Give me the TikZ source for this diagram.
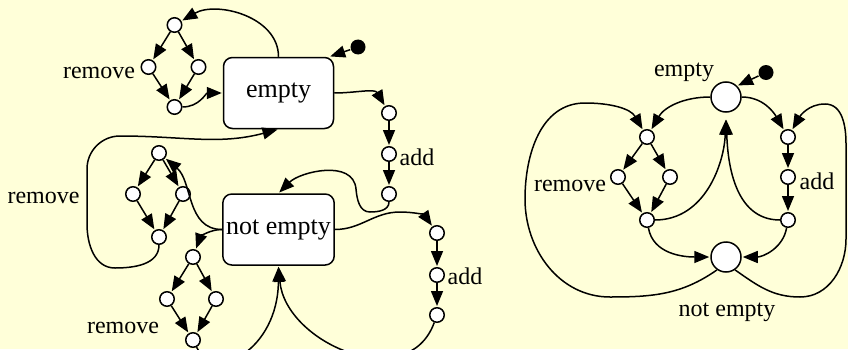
\documentclass[tikz,border=0pt]{standalone}
\usepackage{fontspec}
\setmainfont{Liberation Serif}
\usepackage{tikz}
\usetikzlibrary{arrows.meta,positioning}
\definecolor{paper}{RGB}{255,255,217}

\begin{document}
\begin{tikzpicture}[x=1pt,y=1pt,>={Triangle[length=15pt,width=12pt]},line width=1.5pt,on grid,
  box/.style={draw,fill=white,rounded corners=9pt,minimum width=110pt,minimum height=71pt,font=\fontsize{26}{30}\selectfont},
  pt/.style={circle,draw,fill=white,minimum size=14.5pt,inner sep=0pt},
  bigpt/.style={circle,draw,fill=white,minimum size=30pt,inner sep=0pt},
  start/.style={circle,fill=black,minimum size=15pt,inner sep=0pt},
  lbl/.style={inner sep=0pt,font=\fontsize{24}{28}\selectfont}]
  \path[use as bounding box,fill=paper] (0,0) rectangle (848,349);
  \clip (0,0) rectangle (848,349);

  % left chart
  \node[box]   (empty)                       at (278.5,256) {empty};
  \node[box]   (notempty) [below=136.5pt of empty]          {not empty};
  \node[start] (init)                        at (358,302)   {};

  \node[pt]  (rm1t)                              at (174.5,324) {};
  \node[pt]  (rm1l) [below left=42pt and 26pt of rm1t]       {};
  \node[pt]  (rm1r) [below right=42pt and 24pt of rm1t]      {};
  \node[pt]  (rm1b) [below=82pt of rm1t]                     {};
  \node[lbl] (rm1lbl)                            at (99,276)  {remove};

  \node[pt]  (add1t)                             at (389,236) {};
  \node[pt]  (add1m) [below=41pt of add1t]                   {};
  \node[pt]  (add1b) [below=40pt of add1m]                   {};
  \node[lbl] (add1lbl)                           at (417,192) {add};

  \node[pt]  (rm2t)                              at (159,196) {};
  \node[pt]  (rm2l) [below left=41pt and 26pt of rm2t]       {};
  \node[pt]  (rm2r) [below right=41pt and 24pt of rm2t]      {};
  \node[pt]  (rm2b) [below=84pt of rm2t]                     {};
  \node[lbl] (rm2lbl)                            at (43.5,151) {remove};

  \node[pt]  (rm3t)                              at (193,92)  {};
  \node[pt]  (rm3l) [below left=42pt and 26pt of rm3t]       {};
  \node[pt]  (rm3r) [below right=42pt and 23pt of rm3t]      {};
  \node[pt]  (rm3b) [below=83pt of rm3t]                     {};
  \node[lbl] (rm3lbl)                            at (123,21.5) {remove};

  \node[pt]  (add2t)                             at (437,116) {};
  \node[pt]  (add2m) [below=42pt of add2t]                   {};
  \node[pt]  (add2b) [below=40pt of add2m]                   {};
  \node[lbl] (add2lbl)                           at (465,72.5) {add};

  % right chart
  \node[bigpt] (s1)                              at (726,252) {};
  \node[bigpt] (s2) [below=160pt of s1]                      {};
  \node[start] (init2)                           at (766,276.5) {};
  \node[lbl]   (s1lbl)                           at (684,276.5) {empty};
  \node[lbl]   (s2lbl)                           at (727,37)  {not empty};

  \node[pt]  (rm4t)                              at (647,212) {};
  \node[pt]  (rm4l) [below left=40pt and 29pt of rm4t]       {};
  \node[pt]  (rm4r) [below right=40pt and 23pt of rm4t]      {};
  \node[pt]  (rm4b) [below=83pt of rm4t]                     {};
  \node[lbl] (rm4lbl)                            at (570,163) {remove};

  \node[pt]  (add3t)                             at (788,212) {};
  \node[pt]  (add3m) [below=40pt of add3t]                   {};
  \node[pt]  (add3b) [below=43pt of add3m]                   {};
  \node[lbl] (add3lbl)                           at (817,168) {add};

\tikzset{trans/.style={->,shorten >=1pt}}
\path (rm1t) edge [trans] (rm1l)
      (rm1t) edge [trans] (rm1r)
      (rm1l) edge [trans] (rm1b)
      (rm1r) edge [trans] (rm1b)
      (rm2t) edge [trans] (rm2l)
      (rm2t) edge [trans] (rm2r)
      (rm2l) edge [trans] (rm2b)
      (rm2r) edge [trans] (rm2b)
      (rm3t) edge [trans] (rm3l)
      (rm3t) edge [trans] (rm3r)
      (rm3l) edge [trans] (rm3b)
      (rm3r) edge [trans] (rm3b)
      (rm4t) edge [trans] (rm4l)
      (rm4t) edge [trans] (rm4r)
      (rm4l) edge [trans] (rm4b)
      (rm4r) edge [trans] (rm4b)
      (add1t) edge [trans] (add1m)
      (add1m) edge [trans] (add1b)
      (add2t) edge [trans] (add2m)
      (add2m) edge [trans] (add2b)
      (add3t) edge [trans] (add3m)
      (add3m) edge [trans] (add3b);

% left chart transitions
\path (init)        edge [trans] ([xshift=-5pt]empty.north east)
      (empty.north) edge [trans,out=90,in=30] (rm1t)
      (rm1b)        edge [trans,out=0,in=180] (empty.west)
      (empty.east)  edge [trans,out=0,in=120] (add1t)
      (notempty.west) edge [trans,out=180,in=-40] (rm2t)
      (notempty.west) edge [trans,out=180,in=70] (rm3t)
      (add2b)       edge [trans,out=-110,in=-85,looseness=1.2] (notempty.south);
\draw[trans] (add1b) to[out=-90,in=0] (370,137) to[out=180,in=-85] (356,160)
  to[out=95,in=45] (notempty.north);
\draw[trans] (rm2b) to[out=-90,in=0] (115,81) to[out=180,in=-90] (87,125)
  -- (87,180) to[out=90,in=180] (120,213) to[out=0,in=195] (empty.south);
\draw[trans] (rm3b) .. controls (215,-35) and (278,0) .. (notempty.south);
\draw[trans] (notempty.east) to[out=0,in=180] (400,137) to[out=0,in=125] (add2t);

% right chart transitions
\path (init2)  edge [trans] (s1.north east)
      (s1.west) edge [trans,out=180,in=60] (rm4t)
      (s1.east) edge [trans,out=0,in=120] (add3t)
      (rm4b)   edge [trans,out=0,in=-92,shorten >=7pt] (s1.south)
      (add3b)  edge [trans,out=180,in=-88,shorten >=7pt] (s1.south)
      (rm4b)   edge [trans,out=-80,in=180] (s2.west)
      (add3b)  edge [trans,out=-100,in=0] (s2.east);
\draw[trans] (s2.-125) to[out=-145,in=0] (610,52) to[out=180,in=-90] (525,150)
  to[out=90,in=180] (585,246) to[out=0,in=120] (rm4t);
\draw[trans] (s2.-55) to[out=-35,in=180] (800,52) to[out=0,in=-90] (846,110)
  -- (846,205) to[out=90,in=0] (825,245) to[out=180,in=60] (add3t);
\end{tikzpicture}
\end{document}
